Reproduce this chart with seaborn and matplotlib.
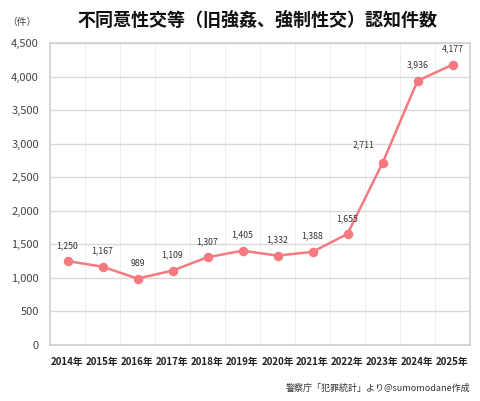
import numpy as np
import pandas as pd
import matplotlib
matplotlib.use("Agg")
import matplotlib.pyplot as plt
import seaborn as sns
from matplotlib.ticker import FuncFormatter, FixedLocator

years = ["2014年", "2015年", "2016年", "2017年", "2018年", "2019年",
         "2020年", "2021年", "2022年", "2023年", "2024年", "2025年"]
counts = [1250, 1167, 989, 1109, 1307, 1405, 1332, 1388, 1655, 2711, 3936, 4177]

df = pd.DataFrame({"year": years, "count": counts})

sns.set_theme(style="white")
plt.rcParams["font.family"] = ["Noto Sans CJK JP", "DejaVu Sans"]

line_color = "#F47A80"

fig = plt.figure(figsize=(4.8, 4.01), dpi=100)
ax = fig.add_axes([50 / 480, 1 - 345 / 401, 420 / 480, 302 / 401])

sns.pointplot(data=df, x="year", y="count", color=line_color,
              markersize=5.5, linewidth=1.8, ax=ax)

ax.set_xlim(-0.5, len(years) - 0.5)
ax.set_ylim(0, 4500)
ax.set_yticks(range(0, 4501, 500))
ax.yaxis.set_major_formatter(FuncFormatter(lambda v, p: f"{int(v):,}"))
ax.xaxis.set_minor_locator(FixedLocator(np.arange(0.5, len(years) - 0.5, 1)))
ax.grid(axis="y", which="major", color="#D9D9D9", linewidth=1)
ax.grid(axis="x", which="minor", color="#EEEEEE", linewidth=0.8)
ax.set_axisbelow(True)
for s in ax.spines.values():
    s.set_color("#D0D0D0")
    s.set_linewidth(1.2)

ax.set_xlabel("")
ax.set_ylabel("")
ax.tick_params(axis="y", labelsize=8, colors="#444444", length=0, pad=8)
ax.tick_params(axis="x", labelsize=7, length=0, pad=9)
for t in ax.get_xticklabels():
    t.set_fontweight("bold")
    t.set_color("#222222")

# data labels
for i, v in enumerate(counts):
    dx = -14 if i == 9 else 0
    dy = 8 if i != 9 else 10
    ax.annotate(f"{v:,}", (i, v), xytext=(dx, dy), textcoords="offset points",
                ha="center", va="bottom", fontsize=6.3, color="#333333")

fig.text(22 / 480, 1 - 22 / 401, "（件）", ha="center", va="center",
         fontsize=7, color="#404040")
fig.text(257 / 480, 1 - 20 / 401, "不同意性交等（旧強姦、強制性交）認知件数",
         ha="center", va="center", fontsize=13, fontweight="bold", color="#111111")
fig.text(470 / 480, 1 - 388 / 401, "警察庁「犯罪統計」より@sumomodane作成",
         ha="right", va="center", fontsize=6.5, color="#333333")

fig.savefig("out.png", dpi=100, facecolor="white")
